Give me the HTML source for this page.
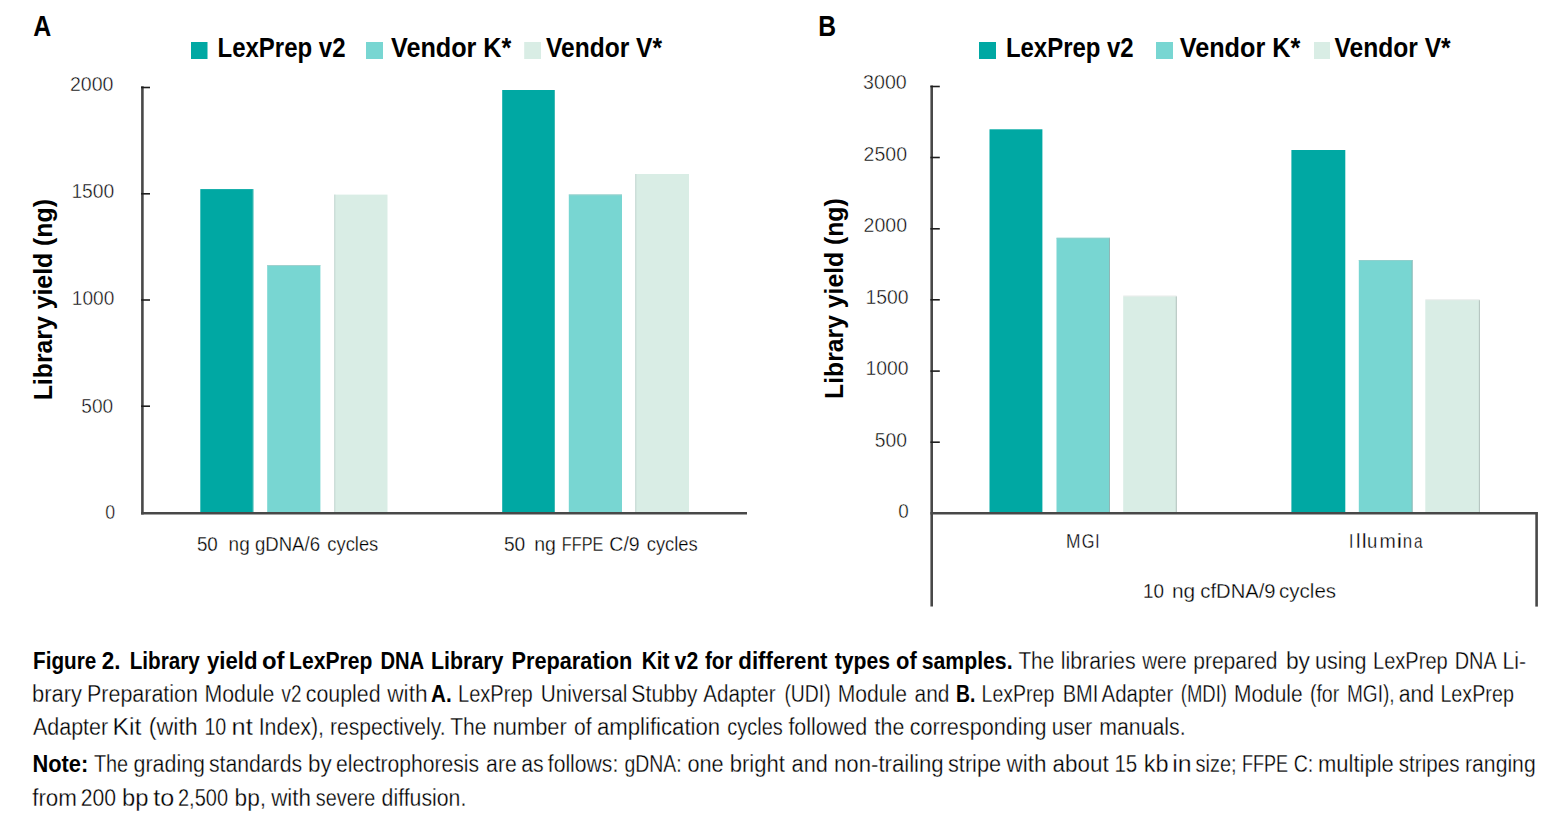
<!DOCTYPE html>
<html><head><meta charset="utf-8">
<style>
html,body{margin:0;padding:0;background:#fff;width:1565px;height:834px;overflow:hidden}
svg{position:absolute;left:0;top:0;display:block}
text{font-family:"Liberation Sans",sans-serif}
.b{font-weight:bold}
.tk{font-size:20px;fill:#000;stroke:#fff;stroke-width:0.45px}
.cat{font-size:20px;fill:#000;stroke:#fff;stroke-width:0.3px}
.leg{font-size:28px;font-weight:bold;fill:#000}
.yt{font-size:26.5px;font-weight:bold;fill:#000}
.cap{font-size:23px;fill:#000}
.cap text{stroke:#fff;stroke-width:0.3px}
.cap text.b{stroke:none}
</style></head><body>
<svg width="1565" height="834" viewBox="0 0 1565 834">
<!-- Panel labels -->
<text x="33.2" y="36.2" class="b" font-size="30.2" textLength="18" lengthAdjust="spacingAndGlyphs">A</text>
<text x="818.2" y="36.2" class="b" font-size="30.2" textLength="17.8" lengthAdjust="spacingAndGlyphs">B</text>

<!-- Legend A -->
<rect x="191" y="42" width="16.5" height="17" fill="#00a8a3"/>
<text x="217.5" y="57.2" class="leg" textLength="128" lengthAdjust="spacingAndGlyphs">LexPrep v2</text>
<rect x="366" y="42" width="17" height="17" fill="#78d6d2"/>
<text x="391" y="57.2" class="leg" textLength="120.3" lengthAdjust="spacingAndGlyphs">Vendor K*</text>
<rect x="524.2" y="42" width="16.8" height="17" fill="#d9ede5"/>
<text x="546" y="57.2" class="leg" textLength="116" lengthAdjust="spacingAndGlyphs">Vendor V*</text>

<!-- Legend B -->
<rect x="979" y="42" width="17" height="17" fill="#00a8a3"/>
<text x="1005.9" y="57.2" class="leg" textLength="127.8" lengthAdjust="spacingAndGlyphs">LexPrep v2</text>
<rect x="1156" y="42" width="17" height="17" fill="#78d6d2"/>
<text x="1179.7" y="57.2" class="leg" textLength="120.6" lengthAdjust="spacingAndGlyphs">Vendor K*</text>
<rect x="1314" y="42" width="16" height="17" fill="#d9ede5"/>
<text x="1334.5" y="57.2" class="leg" textLength="116.1" lengthAdjust="spacingAndGlyphs">Vendor V*</text>

<!-- Y titles -->
<text class="yt" transform="translate(52.3,400.3) rotate(-90)" textLength="201.2" lengthAdjust="spacingAndGlyphs">Library yield (ng)</text>
<text class="yt" transform="translate(843,398.9) rotate(-90)" textLength="200.6" lengthAdjust="spacingAndGlyphs">Library yield (ng)</text>

<!-- Chart A bars -->
<g>
<rect x="200.3" y="189.1" width="53" height="323.4" fill="#00a8a3"/>
<rect x="267.2" y="265.1" width="53.2" height="247.4" fill="#78d6d2"/>
<rect x="334.3" y="194.6" width="53.2" height="317.9" fill="#d9ede5"/>
<rect x="502.2" y="90" width="52.8" height="422.5" fill="#00a8a3"/>
<rect x="568.8" y="194.5" width="53.2" height="318" fill="#78d6d2"/>
<rect x="635.3" y="174" width="53.7" height="338.5" fill="#d9ede5"/>
</g>
<g>
<rect x="334.3" y="194.6" width="1" height="317.9" fill="#c3d6d0"/>
<rect x="635.3" y="174" width="1" height="338.5" fill="#c3d6d0"/>
<rect x="267.2" y="265.1" width="53.2" height="0.8" fill="#a8cfcc"/>
<rect x="568.8" y="194.5" width="53.2" height="0.8" fill="#a8cfcc"/>
<rect x="252.5" y="189.1" width="0.8" height="323.4" fill="#4fbdb8"/>
<rect x="554.2" y="90" width="0.8" height="422.5" fill="#4fbdb8"/>
</g>
<!-- Chart A axes -->
<g stroke="#484848" stroke-width="2.6" fill="none">
<line x1="142.4" y1="86.3" x2="142.4" y2="514.6"/>
<line x1="141.1" y1="513.3" x2="747" y2="513.3"/>
<line x1="141.1" y1="87.5" x2="150" y2="87.5" stroke-width="1.6" stroke="#1e1e1e"/>
<line x1="141.1" y1="193.8" x2="150" y2="193.8" stroke-width="1.6" stroke="#1e1e1e"/>
<line x1="141.1" y1="300" x2="150" y2="300" stroke-width="1.6" stroke="#1e1e1e"/>
<line x1="141.1" y1="406.2" x2="150" y2="406.2" stroke-width="1.6" stroke="#1e1e1e"/>
</g>
<g class="tk" text-anchor="end">
<text x="113.4" y="91" textLength="43.5" lengthAdjust="spacingAndGlyphs">2000</text>
<text x="114.3" y="197.9" textLength="42.9" lengthAdjust="spacingAndGlyphs">1500</text>
<text x="114.3" y="304.9" textLength="42.5" lengthAdjust="spacingAndGlyphs">1000</text>
<text x="113.1" y="412.5" textLength="31.8" lengthAdjust="spacingAndGlyphs">500</text>
<text x="115.1" y="518.8" textLength="9.9" lengthAdjust="spacingAndGlyphs">0</text>
</g>
<text x="196.9" y="550.7" class="cat" textLength="20.9" lengthAdjust="spacingAndGlyphs">50</text>
<text x="228.6" y="550.7" class="cat" textLength="21.1" lengthAdjust="spacingAndGlyphs">ng</text>
<text x="254.9" y="550.7" class="cat" textLength="65.1" lengthAdjust="spacingAndGlyphs">gDNA/6</text>
<text x="327.3" y="550.7" class="cat" textLength="51.0" lengthAdjust="spacingAndGlyphs">cycles</text>
<text x="503.9" y="551.2" class="cat" textLength="21.3" lengthAdjust="spacingAndGlyphs">50</text>
<text x="534.2" y="551.2" class="cat" textLength="21.7" lengthAdjust="spacingAndGlyphs">ng</text>
<text x="561.8" y="551.2" class="cat" textLength="41.5" lengthAdjust="spacingAndGlyphs">FFPE</text>
<text x="609.3" y="551.2" class="cat" textLength="30.4" lengthAdjust="spacingAndGlyphs">C/9</text>
<text x="646.7" y="551.2" class="cat" textLength="51.1" lengthAdjust="spacingAndGlyphs">cycles</text>

<!-- Chart B bars -->
<g>
<rect x="989.5" y="129.3" width="52.9" height="383.2" fill="#00a8a3"/>
<rect x="1056.5" y="237.8" width="53.2" height="274.7" fill="#78d6d2"/>
<rect x="1123.2" y="296.3" width="53.4" height="216.2" fill="#d9ede5"/>
<rect x="1291.4" y="150" width="53.9" height="362.5" fill="#00a8a3"/>
<rect x="1358.8" y="260" width="53.6" height="252.5" fill="#78d6d2"/>
<rect x="1425.3" y="300.1" width="54.5" height="212.4" fill="#d9ede5"/>
</g>
<g>
<rect x="1109" y="237.8" width="0.9" height="274.7" fill="#8fb3b1"/>
<rect x="1411.7" y="260" width="0.9" height="252.5" fill="#8fb3b1"/>
<rect x="1056.5" y="237.8" width="53.2" height="0.8" fill="#96cfcc"/>
<rect x="1358.8" y="260" width="53.6" height="0.8" fill="#96cfcc"/>
<rect x="1175.8" y="296.3" width="0.9" height="216.2" fill="#adbdb8"/>
<rect x="1478.9" y="300.1" width="0.9" height="212.4" fill="#adbdb8"/>
<rect x="1123.2" y="295.6" width="53.4" height="0.8" fill="#e2e6e4"/>
<rect x="1425.3" y="299.4" width="54.5" height="0.8" fill="#e2e6e4"/>
</g>
<g stroke="#484848" stroke-width="2.6" fill="none">
<line x1="931.7" y1="85.6" x2="931.7" y2="606.6"/>
<line x1="930.4" y1="513.3" x2="1537.5" y2="513.3"/>
<line x1="1536.6" y1="512" x2="1536.6" y2="606.6"/>
<line x1="930.4" y1="86.5" x2="939.8" y2="86.5" stroke-width="1.6" stroke="#1e1e1e"/>
<line x1="930.4" y1="157.5" x2="939.8" y2="157.5" stroke-width="1.6" stroke="#1e1e1e"/>
<line x1="930.4" y1="228.8" x2="939.8" y2="228.8" stroke-width="1.6" stroke="#1e1e1e"/>
<line x1="930.4" y1="299.8" x2="939.8" y2="299.8" stroke-width="1.6" stroke="#1e1e1e"/>
<line x1="930.4" y1="371.1" x2="939.8" y2="371.1" stroke-width="1.6" stroke="#1e1e1e"/>
<line x1="930.4" y1="442.2" x2="939.8" y2="442.2" stroke-width="1.6" stroke="#1e1e1e"/>
</g>
<g class="tk" text-anchor="end">
<text x="906.7" y="89" textLength="43.6" lengthAdjust="spacingAndGlyphs">3000</text>
<text x="907" y="160.5" textLength="43.4" lengthAdjust="spacingAndGlyphs">2500</text>
<text x="907.1" y="232" textLength="43.5" lengthAdjust="spacingAndGlyphs">2000</text>
<text x="908.5" y="303.7" textLength="43.1" lengthAdjust="spacingAndGlyphs">1500</text>
<text x="908.5" y="375" textLength="43.1" lengthAdjust="spacingAndGlyphs">1000</text>
<text x="907" y="446.8" textLength="32.2" lengthAdjust="spacingAndGlyphs">500</text>
<text x="908.7" y="517.8" textLength="10.5" lengthAdjust="spacingAndGlyphs">0</text>
</g>
<text x="1066.0" y="547.8" class="cat" textLength="14.5" lengthAdjust="spacingAndGlyphs">M</text>
<text x="1081.8" y="547.8" class="cat" textLength="12.7" lengthAdjust="spacingAndGlyphs">G</text>
<text x="1095.3" y="547.8" class="cat" textLength="4.2" lengthAdjust="spacingAndGlyphs">I</text>
<text x="1348.9" y="548" class="cat" textLength="4.4" lengthAdjust="spacingAndGlyphs">I</text>
<text x="1356.0" y="548" class="cat" textLength="4.5" lengthAdjust="spacingAndGlyphs">l</text>
<text x="1361.7" y="548" class="cat" textLength="4.9" lengthAdjust="spacingAndGlyphs">l</text>
<text x="1366.9" y="548" class="cat" textLength="10.3" lengthAdjust="spacingAndGlyphs">u</text>
<text x="1379.6" y="548" class="cat" textLength="16.3" lengthAdjust="spacingAndGlyphs">m</text>
<text x="1396.5" y="548" class="cat" textLength="5.8" lengthAdjust="spacingAndGlyphs">i</text>
<text x="1402.8" y="548" class="cat" textLength="9.4" lengthAdjust="spacingAndGlyphs">n</text>
<text x="1414.0" y="548" class="cat" textLength="8.5" lengthAdjust="spacingAndGlyphs">a</text>
<text x="1143.1" y="597.5" class="cat" textLength="21.0" lengthAdjust="spacingAndGlyphs">10</text>
<text x="1172.0" y="597.5" class="cat" textLength="23.2" lengthAdjust="spacingAndGlyphs">ng</text>
<text x="1200.3" y="597.5" class="cat" textLength="75.3" lengthAdjust="spacingAndGlyphs">cfDNA/9</text>
<text x="1279.1" y="597.5" class="cat" textLength="57.0" lengthAdjust="spacingAndGlyphs">cycles</text>

<!-- Caption -->
<g class="cap">
<text x="33.1" y="669" class="b" textLength="63.2" lengthAdjust="spacingAndGlyphs">Figure</text>
<text x="101.7" y="669" class="b" textLength="18.7" lengthAdjust="spacingAndGlyphs">2.</text>
<text x="129.7" y="669" class="b" textLength="70.1" lengthAdjust="spacingAndGlyphs">Library</text>
<text x="207.0" y="669" class="b" textLength="50.6" lengthAdjust="spacingAndGlyphs">yield</text>
<text x="262.0" y="669" class="b" textLength="22.5" lengthAdjust="spacingAndGlyphs">of</text>
<text x="289.1" y="669" class="b" textLength="83.2" lengthAdjust="spacingAndGlyphs">LexPrep</text>
<text x="380.4" y="669" class="b" textLength="43.8" lengthAdjust="spacingAndGlyphs">DNA</text>
<text x="431.0" y="669" class="b" textLength="72.5" lengthAdjust="spacingAndGlyphs">Library</text>
<text x="511.5" y="669" class="b" textLength="120.7" lengthAdjust="spacingAndGlyphs">Preparation</text>
<text x="641.7" y="669" class="b" textLength="27.8" lengthAdjust="spacingAndGlyphs">Kit</text>
<text x="674.6" y="669" class="b" textLength="23.6" lengthAdjust="spacingAndGlyphs">v2</text>
<text x="704.9" y="669" class="b" textLength="27.7" lengthAdjust="spacingAndGlyphs">for</text>
<text x="738.3" y="669" class="b" textLength="89.2" lengthAdjust="spacingAndGlyphs">different</text>
<text x="834.7" y="669" class="b" textLength="55.3" lengthAdjust="spacingAndGlyphs">types</text>
<text x="896.0" y="669" class="b" textLength="20.7" lengthAdjust="spacingAndGlyphs">of</text>
<text x="921.7" y="669" class="b" textLength="90.9" lengthAdjust="spacingAndGlyphs">samples.</text>
<text x="1018.4" y="669" textLength="35.9" lengthAdjust="spacingAndGlyphs">The</text>
<text x="1060.7" y="669" textLength="74.9" lengthAdjust="spacingAndGlyphs">libraries</text>
<text x="1142.2" y="669" textLength="44.6" lengthAdjust="spacingAndGlyphs">were</text>
<text x="1193.2" y="669" textLength="84.2" lengthAdjust="spacingAndGlyphs">prepared</text>
<text x="1285.9" y="669" textLength="24.1" lengthAdjust="spacingAndGlyphs">by</text>
<text x="1315.0" y="669" textLength="51.6" lengthAdjust="spacingAndGlyphs">using</text>
<text x="1373.0" y="669" textLength="74.7" lengthAdjust="spacingAndGlyphs">LexPrep</text>
<text x="1454.7" y="669" textLength="42.1" lengthAdjust="spacingAndGlyphs">DNA</text>
<text x="1502.6" y="669" textLength="23.5" lengthAdjust="spacingAndGlyphs">Li-</text>
<text x="32.1" y="702" textLength="50.0" lengthAdjust="spacingAndGlyphs">brary</text>
<text x="87.0" y="702" textLength="111.0" lengthAdjust="spacingAndGlyphs">Preparation</text>
<text x="204.5" y="702" textLength="69.9" lengthAdjust="spacingAndGlyphs">Module</text>
<text x="281.6" y="702" textLength="19.9" lengthAdjust="spacingAndGlyphs">v2</text>
<text x="305.8" y="702" textLength="74.8" lengthAdjust="spacingAndGlyphs">coupled</text>
<text x="387.2" y="702" textLength="40.4" lengthAdjust="spacingAndGlyphs">with</text>
<text x="431.0" y="702" class="b" textLength="20.6" lengthAdjust="spacingAndGlyphs">A.</text>
<text x="458.0" y="702" textLength="74.7" lengthAdjust="spacingAndGlyphs">LexPrep</text>
<text x="540.7" y="702" textLength="86.8" lengthAdjust="spacingAndGlyphs">Universal</text>
<text x="631.3" y="702" textLength="66.2" lengthAdjust="spacingAndGlyphs">Stubby</text>
<text x="703.3" y="702" textLength="72.4" lengthAdjust="spacingAndGlyphs">Adapter</text>
<text x="784.4" y="702" textLength="46.3" lengthAdjust="spacingAndGlyphs">(UDI)</text>
<text x="837.7" y="702" textLength="69.3" lengthAdjust="spacingAndGlyphs">Module</text>
<text x="914.5" y="702" textLength="34.9" lengthAdjust="spacingAndGlyphs">and</text>
<text x="956.1" y="702" class="b" textLength="19.3" lengthAdjust="spacingAndGlyphs">B.</text>
<text x="981.6" y="702" textLength="72.7" lengthAdjust="spacingAndGlyphs">LexPrep</text>
<text x="1062.7" y="702" textLength="35.6" lengthAdjust="spacingAndGlyphs">BMI</text>
<text x="1101.6" y="702" textLength="71.6" lengthAdjust="spacingAndGlyphs">Adapter</text>
<text x="1180.8" y="702" textLength="46.2" lengthAdjust="spacingAndGlyphs">(MDI)</text>
<text x="1234.0" y="702" textLength="68.6" lengthAdjust="spacingAndGlyphs">Module</text>
<text x="1309.9" y="702" textLength="29.4" lengthAdjust="spacingAndGlyphs">(for</text>
<text x="1347.0" y="702" textLength="47.6" lengthAdjust="spacingAndGlyphs">MGI),</text>
<text x="1398.8" y="702" textLength="35.3" lengthAdjust="spacingAndGlyphs">and</text>
<text x="1440.4" y="702" textLength="73.5" lengthAdjust="spacingAndGlyphs">LexPrep</text>
<text x="32.9" y="734.5" textLength="75.3" lengthAdjust="spacingAndGlyphs">Adapter</text>
<text x="112.6" y="734.5" textLength="28.9" lengthAdjust="spacingAndGlyphs">Kit</text>
<text x="148.7" y="734.5" textLength="49.1" lengthAdjust="spacingAndGlyphs">(with</text>
<text x="204.4" y="734.5" textLength="21.9" lengthAdjust="spacingAndGlyphs">10</text>
<text x="231.6" y="734.5" textLength="21.2" lengthAdjust="spacingAndGlyphs">nt</text>
<text x="258.7" y="734.5" textLength="65.3" lengthAdjust="spacingAndGlyphs">Index),</text>
<text x="329.9" y="734.5" textLength="115.6" lengthAdjust="spacingAndGlyphs">respectively.</text>
<text x="450.2" y="734.5" textLength="36.3" lengthAdjust="spacingAndGlyphs">The</text>
<text x="492.7" y="734.5" textLength="74.1" lengthAdjust="spacingAndGlyphs">number</text>
<text x="574.1" y="734.5" textLength="17.6" lengthAdjust="spacingAndGlyphs">of</text>
<text x="596.9" y="734.5" textLength="123.3" lengthAdjust="spacingAndGlyphs">amplification</text>
<text x="727.2" y="734.5" textLength="55.6" lengthAdjust="spacingAndGlyphs">cycles</text>
<text x="788.4" y="734.5" textLength="78.7" lengthAdjust="spacingAndGlyphs">followed</text>
<text x="874.6" y="734.5" textLength="29.7" lengthAdjust="spacingAndGlyphs">the</text>
<text x="909.7" y="734.5" textLength="136.8" lengthAdjust="spacingAndGlyphs">corresponding</text>
<text x="1051.8" y="734.5" textLength="40.5" lengthAdjust="spacingAndGlyphs">user</text>
<text x="1099.3" y="734.5" textLength="86.3" lengthAdjust="spacingAndGlyphs">manuals.</text>
<text x="32.4" y="772" class="b" textLength="55.8" lengthAdjust="spacingAndGlyphs">Note:</text>
<text x="93.9" y="772" textLength="34.3" lengthAdjust="spacingAndGlyphs">The</text>
<text x="133.6" y="772" textLength="71.4" lengthAdjust="spacingAndGlyphs">grading</text>
<text x="208.9" y="772" textLength="93.2" lengthAdjust="spacingAndGlyphs">standards</text>
<text x="308.0" y="772" textLength="23.7" lengthAdjust="spacingAndGlyphs">by</text>
<text x="336.0" y="772" textLength="143.1" lengthAdjust="spacingAndGlyphs">electrophoresis</text>
<text x="486.1" y="772" textLength="30.7" lengthAdjust="spacingAndGlyphs">are</text>
<text x="521.3" y="772" textLength="22.4" lengthAdjust="spacingAndGlyphs">as</text>
<text x="547.8" y="772" textLength="70.5" lengthAdjust="spacingAndGlyphs">follows:</text>
<text x="624.5" y="772" textLength="57.2" lengthAdjust="spacingAndGlyphs">gDNA:</text>
<text x="687.4" y="772" textLength="36.2" lengthAdjust="spacingAndGlyphs">one</text>
<text x="729.7" y="772" textLength="55.2" lengthAdjust="spacingAndGlyphs">bright</text>
<text x="791.6" y="772" textLength="36.2" lengthAdjust="spacingAndGlyphs">and</text>
<text x="834.0" y="772" textLength="109.7" lengthAdjust="spacingAndGlyphs">non-trailing</text>
<text x="948.0" y="772" textLength="53.1" lengthAdjust="spacingAndGlyphs">stripe</text>
<text x="1006.6" y="772" textLength="40.0" lengthAdjust="spacingAndGlyphs">with</text>
<text x="1052.6" y="772" textLength="56.1" lengthAdjust="spacingAndGlyphs">about</text>
<text x="1114.4" y="772" textLength="22.9" lengthAdjust="spacingAndGlyphs">15</text>
<text x="1143.8" y="772" textLength="24.8" lengthAdjust="spacingAndGlyphs">kb</text>
<text x="1172.2" y="772" textLength="19.4" lengthAdjust="spacingAndGlyphs">in</text>
<text x="1195.6" y="772" textLength="41.0" lengthAdjust="spacingAndGlyphs">size;</text>
<text x="1241.9" y="772" textLength="46.1" lengthAdjust="spacingAndGlyphs">FFPE</text>
<text x="1293.7" y="772" textLength="19.6" lengthAdjust="spacingAndGlyphs">C:</text>
<text x="1318.0" y="772" textLength="75.8" lengthAdjust="spacingAndGlyphs">multiple</text>
<text x="1398.8" y="772" textLength="60.7" lengthAdjust="spacingAndGlyphs">stripes</text>
<text x="1465.0" y="772" textLength="70.7" lengthAdjust="spacingAndGlyphs">ranging</text>
<text x="32.2" y="805.6" textLength="44.8" lengthAdjust="spacingAndGlyphs">from</text>
<text x="80.8" y="805.6" textLength="35.3" lengthAdjust="spacingAndGlyphs">200</text>
<text x="122.0" y="805.6" textLength="26.5" lengthAdjust="spacingAndGlyphs">bp</text>
<text x="153.3" y="805.6" textLength="21.0" lengthAdjust="spacingAndGlyphs">to</text>
<text x="178.0" y="805.6" textLength="50.0" lengthAdjust="spacingAndGlyphs">2,500</text>
<text x="234.5" y="805.6" textLength="31.6" lengthAdjust="spacingAndGlyphs">bp,</text>
<text x="271.2" y="805.6" textLength="39.8" lengthAdjust="spacingAndGlyphs">with</text>
<text x="315.8" y="805.6" textLength="59.5" lengthAdjust="spacingAndGlyphs">severe</text>
<text x="381.6" y="805.6" textLength="84.7" lengthAdjust="spacingAndGlyphs">diffusion.</text>
</g>
</svg>
</body></html>
